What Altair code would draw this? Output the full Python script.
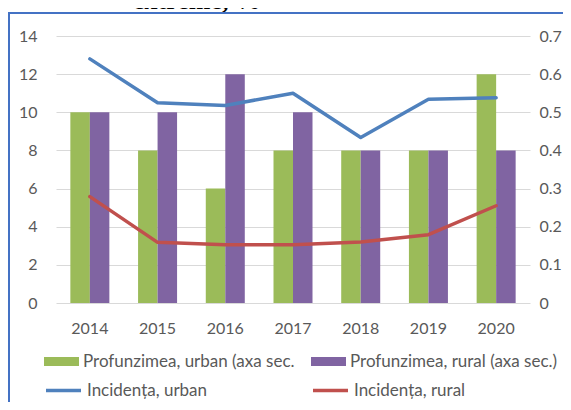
import altair as alt
import pandas as pd

# ---- data ----
years = ["2014", "2015", "2016", "2017", "2018", "2019", "2020"]
depth_urban = [10, 8, 6, 8, 8, 8, 12]
depth_rural = [10, 10, 12, 10, 8, 8, 8]
inc_urban = [0.640, 0.525, 0.518, 0.550, 0.434, 0.534, 0.538]
inc_rural = [0.279, 0.159, 0.153, 0.153, 0.160, 0.179, 0.255]

series_names = [
    "Profunzimea, urban (axa sec.",
    "Profunzimea, rural (axa sec.)",
    "Incidența, urban",
    "Incidența, rural",
]
series_colors = ["#9BBB59", "#8064A2", "#4F81BD", "#C0504D"]
title_text = "extreme, %"
left_ticks = [0, 2, 4, 6, 8, 10, 12, 14]
right_ticks = [0, 0.1, 0.2, 0.3, 0.4, 0.5, 0.6, 0.7]

FONT = "Lato"
TXT = "#595959"


def frame(values, name, grp):
    return pd.DataFrame({"year": years, "value": values, "serie": name, "grp": grp})


def xenc():
    return alt.X(
        "year:N",
        sort=years,
        title=None,
        scale=alt.Scale(paddingInner=0.424, paddingOuter=0.212),
        axis=alt.Axis(labelAngle=0, domain=False, ticks=False, grid=False,
                      labelPadding=17),
    )


def yleft():
    return alt.Y(
        "value:Q",
        scale=alt.Scale(domain=[0, 14], nice=False, zero=True),
        axis=alt.Axis(values=left_ticks, orient="left", title=None, domain=False,
                      ticks=False, labelPadding=19, grid=True, gridColor="#D9D9D9",
                      gridWidth=1),
    )


def yright():
    return alt.Y(
        "value:Q",
        scale=alt.Scale(domain=[0, 0.7], nice=False, zero=True),
        axis=alt.Axis(values=right_ticks, orient="right", title=None, domain=False,
                      ticks=False, labelPadding=9, grid=False, format=".1~f"),
    )


BAR_SYMBOL = "M-1,-0.257H1V0.257H-1Z"


def color_enc(i, lx, ly, is_line):
    common = dict(orient="none", legendX=lx, legendY=ly, title=None,
                  symbolSize=1225, labelFont=FONT, labelFontSize=17, labelColor=TXT,
                  labelLimit=400, padding=0, labelOffset=4)
    if is_line:
        leg = alt.Legend(symbolType="stroke", symbolStrokeWidth=3.5, **common)
    else:
        leg = alt.Legend(symbolType=BAR_SYMBOL, symbolStrokeWidth=0, **common)
    return alt.Color("serie:N",
                     scale=alt.Scale(domain=[series_names[i]], range=[series_colors[i]]),
                     legend=leg)


offset = alt.XOffset("grp:N", scale=alt.Scale(domain=["u", "r"], paddingInner=0,
                                              paddingOuter=0))

ROW1 = 308
ROW2 = 335

bar_u = alt.Chart(frame(depth_urban, series_names[0], "u")).mark_bar().encode(
    x=xenc(), xOffset=offset, y=yleft(), color=color_enc(0, -12, ROW1, False))
bar_r = alt.Chart(frame(depth_rural, series_names[1], "r")).mark_bar().encode(
    x=xenc(), xOffset=offset, y=yleft(), color=color_enc(1, 255, ROW1, False))

line_u = alt.Chart(frame(inc_urban, series_names[2], "u")).mark_line(
    strokeWidth=3.5, strokeCap="round", strokeJoin="round").encode(
    x=xenc(), y=yright(), color=color_enc(2, -12, ROW2, True))
line_r = alt.Chart(frame(inc_rural, series_names[3], "r")).mark_line(
    strokeWidth=3.5, strokeCap="round", strokeJoin="round").encode(
    x=xenc(), y=yright(), color=color_enc(3, 255, ROW2, True))

bars = alt.layer(bar_u, bar_r).resolve_scale(color="independent")
lines = alt.layer(line_u, line_r).resolve_scale(color="independent")

one = pd.DataFrame({"t": [title_text]})
title_mark = alt.Chart(one).mark_text(
    font="Liberation Serif", fontWeight="bold", fontSize=26, align="left",
    baseline="alphabetic", color="black").encode(
    text="t:N", x=alt.value(77), y=alt.value(-27))

border_left = alt.Chart(one).mark_rule(color="#4472C4", strokeWidth=2).encode(
    x=alt.value(-47), y=alt.value(-23), y2=alt.value(380))
border_top = alt.Chart(one).mark_rule(color="#4472C4", strokeWidth=2).encode(
    x=alt.value(-48), x2=alt.value(530), y=alt.value(-23))

chart = alt.layer(bars, lines, title_mark, border_left, border_top).resolve_scale(
    y="independent", color="independent"
).properties(
    width=474,
    height=267,
    padding={"left": 48, "top": 28, "right": 33, "bottom": 99},
    autosize=alt.AutoSizeParams(type="none"),
    background="white",
).configure_view(stroke=None).configure_axis(
    labelFont=FONT, labelFontSize=16, labelColor=TXT
)

chart.save("out.html", embed_options={"renderer": "svg", "actions": False})
